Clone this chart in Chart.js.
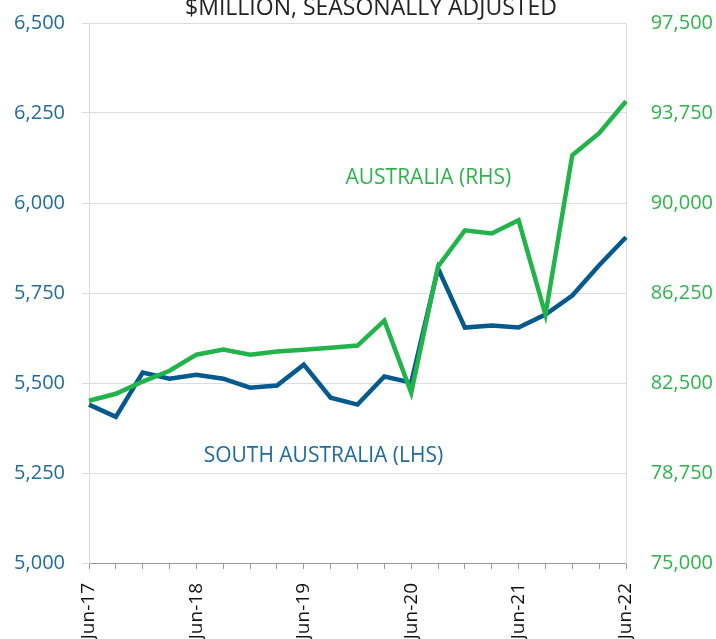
<!DOCTYPE html>
<html>
<head>
<meta charset="utf-8">
<script src="https://cdn.jsdelivr.net/npm/chart.js@4/dist/chart.umd.min.js"></script>
<style>
  html, body { margin: 0; padding: 0; background: #fff; }
  #wrap { width: 716px; height: 639px; position: relative; }
</style>
</head>
<body>
<div id="wrap"><canvas id="c"></canvas></div>
<script>
/* ── Data ── */
const QUARTERS = [
  'Jun-17', 'Sep-17', 'Dec-17', 'Mar-18', 'Jun-18', 'Sep-18', 'Dec-18',
  'Mar-19', 'Jun-19', 'Sep-19', 'Dec-19', 'Mar-20', 'Jun-20', 'Sep-20',
  'Dec-20', 'Mar-21', 'Jun-21', 'Sep-21', 'Dec-21', 'Mar-22', 'Jun-22'
];

// South Australia, $m (LHS)
const SA = [
  5440, 5406, 5529, 5512, 5523, 5512, 5487,
  5493, 5551, 5459, 5440, 5518, 5501, 5818,
  5654, 5660, 5654, 5690, 5743, 5827, 5905
];

// Australia, $m (RHS)
const AUS = [
  81760, 82050, 82560, 83010, 83680, 83890, 83680,
  83810, 83890, 83970, 84060, 85100, 82100, 87360,
  88860, 88730, 89280, 85350, 91990, 92910, 94240
];

const LEFT_TICKS = [5000, 5250, 5500, 5750, 6000, 6250, 6500];
const RIGHT_TICKS = [75000, 78750, 82500, 86250, 90000, 93750, 97500];

const TITLE = '$MILLION, SEASONALLY ADJUSTED';
const LABEL_SA = 'SOUTH AUSTRALIA (LHS)';
const LABEL_AUS = 'AUSTRALIA (RHS)';

/* ── Styles ── */
const BLUE = '#045a8d';
const BLUE_TXT = '#1f6b9c';
const GREEN = '#22b34b';
const GREEN_TXT = '#2fb44c';
const GRID = '#dcdcdc';
const FONT = "'Open Sans', sans-serif";

const fmtN = v => v.toLocaleString('en-US');

// title + series labels drawn as text
const textPlugin = {
  id: 'texts',
  afterDraw(chart) {
    const { ctx, scales } = chart;
    ctx.save();
    ctx.textAlign = 'center';
    ctx.textBaseline = 'alphabetic';
    ctx.font = '23px ' + FONT;
    ctx.fillStyle = '#222';
    ctx.fillText(TITLE, 371, 15);
    ctx.font = '21px ' + FONT;
    ctx.fillStyle = GREEN_TXT;
    ctx.fillText(LABEL_AUS, scales.x.getPixelForValue(12.64), scales.y2.getPixelForValue(90780));
    ctx.fillStyle = BLUE_TXT;
    ctx.fillText(LABEL_SA, scales.x.getPixelForValue(8.73), scales.y.getPixelForValue(5281));
    ctx.restore();
  }
};

new Chart(document.getElementById('c'), {
  type: 'line',
  data: {
    labels: QUARTERS,
    datasets: [
      {
        label: 'South Australia',
        data: SA,
        yAxisID: 'y',
        borderColor: BLUE,
        borderWidth: 4.5,
        pointRadius: 0,
        tension: 0,
        order: 2
      },
      {
        label: 'Australia',
        data: AUS,
        yAxisID: 'y2',
        borderColor: GREEN,
        borderWidth: 4.5,
        pointRadius: 0,
        tension: 0,
        order: 1
      }
    ]
  },
  options: {
    responsive: true,
    maintainAspectRatio: false,
    animation: false,
    // small line height on the y tick fonts keeps the axis' own top padding under 23px
    layout: { padding: { top: 23, left: 0, right: 3, bottom: 0 } },
    plugins: {
      legend: { display: false },
      tooltip: { enabled: false }
    },
    scales: {
      x: {
        offset: false,
        grid: { drawOnChartArea: false, tickLength: 6, color: '#9a9a9a' },
        border: { color: '#9a9a9a' },
        ticks: {
          autoSkip: false,
          minRotation: 90,
          maxRotation: 90,
          padding: 14,
          color: '#111',
          font: { family: FONT, size: 19 },
          callback: (v, i) => (i % 4 === 0 ? QUARTERS[i] : '')
        },
        afterFit: s => { s.height = 76; }
      },
      y: {
        position: 'left',
        min: 5000,
        max: 6500,
        afterBuildTicks: s => { s.ticks = LEFT_TICKS.map(v => ({ value: v })); },
        grid: { color: GRID, tickLength: 7, tickColor: GRID },
        border: { color: GRID },
        ticks: {
          padding: 17,
          color: BLUE_TXT,
          font: { family: FONT, size: 20, lineHeight: 0.5 },
          callback: v => fmtN(v)
        },
        afterFit: s => { s.width = 89; }
      },
      y2: {
        position: 'right',
        min: 75000,
        max: 97500,
        afterBuildTicks: s => { s.ticks = RIGHT_TICKS.map(v => ({ value: v })); },
        grid: { drawOnChartArea: false, drawTicks: false },
        border: { color: GRID },
        ticks: {
          padding: 0,
          crossAlign: 'far',
          color: GREEN_TXT,
          font: { family: FONT, size: 20, lineHeight: 0.5 },
          callback: v => fmtN(v)
        },
        afterFit: s => { s.width = 87; }
      }
    }
  },
  plugins: [textPlugin]
});
</script>
</body>
</html>
